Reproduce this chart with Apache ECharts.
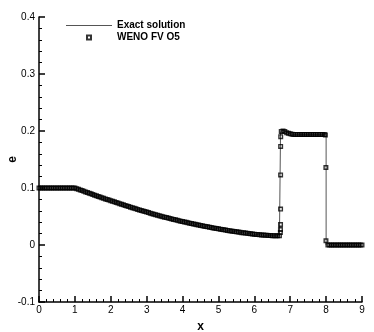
<!DOCTYPE html>
<html>
<head>
<meta charset="utf-8">
<script src="https://cdn.jsdelivr.net/npm/echarts@6/dist/echarts.min.js"></script>
<style>
html,body{margin:0;padding:0;background:#fff;}
#chart{width:374px;height:332px;}
</style>
</head>
<body>
<div id="chart"></div>
<script>
// ---- Data ----
const seriesNames = ['Exact solution', 'WENO FV O5'];
const xTicks = [0, 1, 2, 3, 4, 5, 6, 7, 8, 9];
const yTicks = [-0.1, 0, 0.1, 0.2, 0.3, 0.4];

// Exact solution
const exactX = [0, 1.0, 1.1, 1.2, 1.3, 1.4, 1.5, 1.6, 1.7, 1.8, 1.9, 2.0, 2.1, 2.2, 2.3, 2.4, 2.5, 2.6, 2.7, 2.8, 2.9,
  3.0, 3.1, 3.2, 3.3, 3.4, 3.5, 3.6, 3.7, 3.8, 3.9, 4.0, 4.1, 4.2, 4.3, 4.4, 4.5, 4.6, 4.7, 4.8, 4.9,
  5.0, 5.1, 5.2, 5.3, 5.4, 5.5, 5.6, 5.7, 5.8, 5.9, 6.0, 6.1, 6.2, 6.3, 6.4, 6.5, 6.6, 6.7, 6.73,
  6.73, 6.76, 6.8, 6.85, 6.9, 6.95, 7.0, 7.1, 7.2, 8.0, 8.0, 9.0];
const exactE = [0.1, 0.1, 0.0977, 0.0954, 0.0931, 0.0908, 0.0886, 0.0864, 0.0842, 0.0820, 0.0799, 0.0778, 0.0757, 0.0736, 0.0715, 0.0694, 0.0674, 0.0654, 0.0634, 0.0615, 0.0596,
  0.0577, 0.0559, 0.0541, 0.0523, 0.0506, 0.0489, 0.0473, 0.0457, 0.0441, 0.0426, 0.0411, 0.0397, 0.0383, 0.0369, 0.0356, 0.0343, 0.0330, 0.0318, 0.0306, 0.0294,
  0.0283, 0.0272, 0.0261, 0.0251, 0.0241, 0.0231, 0.0222, 0.0213, 0.0205, 0.0197, 0.0190, 0.0183, 0.0177, 0.0172, 0.0167, 0.0164, 0.0162, 0.0162, 0.0162,
  0.199, 0.200, 0.201, 0.200, 0.198, 0.196, 0.195, 0.194, 0.194, 0.194, 0, 0];

// WENO FV O5 numerical solution
const wenoX = [0, 0.05, 0.1, 0.15, 0.2, 0.25, 0.3, 0.35, 0.4, 0.45, 0.5, 0.55, 0.6, 0.65, 0.7, 0.75, 0.8, 0.85, 0.9, 0.95,
  1.0, 1.05, 1.1, 1.15, 1.2, 1.25, 1.3, 1.35, 1.4, 1.45, 1.5, 1.55, 1.6, 1.65, 1.7, 1.75, 1.8, 1.85, 1.9, 1.95,
  2.0, 2.05, 2.1, 2.15, 2.2, 2.25, 2.3, 2.35, 2.4, 2.45, 2.5, 2.55, 2.6, 2.65, 2.7, 2.75, 2.8, 2.85, 2.9, 2.95,
  3.0, 3.05, 3.1, 3.15, 3.2, 3.25, 3.3, 3.35, 3.4, 3.45, 3.5, 3.55, 3.6, 3.65, 3.7, 3.75, 3.8, 3.85, 3.9, 3.95,
  4.0, 4.05, 4.1, 4.15, 4.2, 4.25, 4.3, 4.35, 4.4, 4.45, 4.5, 4.55, 4.6, 4.65, 4.7, 4.75, 4.8, 4.85, 4.9, 4.95,
  5.0, 5.05, 5.1, 5.15, 5.2, 5.25, 5.3, 5.35, 5.4, 5.45, 5.5, 5.55, 5.6, 5.65, 5.7, 5.75, 5.8, 5.85, 5.9, 5.95,
  6.0, 6.05, 6.1, 6.15, 6.2, 6.25, 6.3, 6.35, 6.4, 6.45, 6.5, 6.55, 6.6, 6.65, 6.7,
  6.726, 6.728, 6.73, 6.731, 6.732, 6.733, 6.735,
  6.75, 6.8, 6.85, 6.9, 6.95, 7.0, 7.05, 7.1, 7.15, 7.2, 7.25, 7.3, 7.35, 7.4, 7.45, 7.5, 7.55, 7.6, 7.65, 7.7, 7.75, 7.8, 7.85, 7.9, 7.95, 7.98,
  7.994, 7.996,
  8.05, 8.1, 8.15, 8.2, 8.25, 8.3, 8.35, 8.4, 8.45, 8.5, 8.55, 8.6, 8.65, 8.7, 8.75, 8.8, 8.85, 8.9, 8.95, 9.0];
const wenoE = [0.1, 0.1, 0.1, 0.1, 0.1, 0.1, 0.1, 0.1, 0.1, 0.1, 0.1, 0.1, 0.1, 0.1, 0.1, 0.1, 0.1, 0.1, 0.1, 0.1,
  0.1, 0.0988, 0.0977, 0.0965, 0.0954, 0.0942, 0.0931, 0.0919, 0.0908, 0.0897, 0.0886, 0.0875, 0.0864, 0.0853, 0.0842, 0.0831, 0.0820, 0.0809, 0.0799, 0.0788,
  0.0778, 0.0767, 0.0757, 0.0746, 0.0736, 0.0725, 0.0715, 0.0704, 0.0694, 0.0684, 0.0674, 0.0664, 0.0654, 0.0644, 0.0634, 0.0624, 0.0615, 0.0605, 0.0596, 0.0586,
  0.0577, 0.0568, 0.0559, 0.0550, 0.0541, 0.0532, 0.0523, 0.0514, 0.0506, 0.0497, 0.0489, 0.0481, 0.0473, 0.0465, 0.0457, 0.0449, 0.0441, 0.0433, 0.0426, 0.0418,
  0.0411, 0.0404, 0.0397, 0.0390, 0.0383, 0.0376, 0.0369, 0.0362, 0.0356, 0.0349, 0.0343, 0.0336, 0.0330, 0.0324, 0.0318, 0.0312, 0.0306, 0.0300, 0.0294, 0.0288,
  0.0283, 0.0277, 0.0272, 0.0266, 0.0261, 0.0256, 0.0251, 0.0246, 0.0241, 0.0236, 0.0231, 0.0226, 0.0222, 0.0217, 0.0213, 0.0209, 0.0205, 0.0201, 0.0197, 0.0193,
  0.0190, 0.0186, 0.0183, 0.0180, 0.0177, 0.0174, 0.0172, 0.0169, 0.0167, 0.0165, 0.0164, 0.0163, 0.0162, 0.0162, 0.0162,
  0.022, 0.027, 0.036, 0.063, 0.123, 0.173, 0.190,
  0.199, 0.200, 0.199, 0.197, 0.196, 0.195, 0.1945, 0.194, 0.194, 0.194, 0.194, 0.194, 0.194, 0.194, 0.194, 0.194, 0.194, 0.194, 0.194, 0.194, 0.194, 0.194, 0.194, 0.194, 0.194, 0.193,
  0.136, 0.0075,
  0, 0, 0, 0, 0, 0, 0, 0, 0, 0, 0, 0, 0, 0, 0, 0, 0, 0, 0, 0];

// ---- Build chart ----
const FONT = 'Liberation Sans, Arial, Helvetica, sans-serif';
const exactData = exactX.map((x, i) => [x, exactE[i]]);
const wenoData = wenoX.map((x, i) => [x, wenoE[i]]);

const axisCommon = {
  type: 'value',
  nameLocation: 'middle',
  nameMoveOverlap: false,
  nameTextStyle: { color: '#000', fontSize: 12, fontWeight: 'bold', fontFamily: FONT },
  axisLine: { show: true, onZero: false, lineStyle: { color: '#000', width: 1.5 } },
  axisTick: { show: true, inside: true, length: 6, lineStyle: { color: '#000', width: 1.5 } },
  minorTick: { show: true, splitNumber: 5, length: 3, lineStyle: { color: '#000', width: 1 } },
  splitLine: { show: false },
  minorSplitLine: { show: false },
  axisLabel: { color: '#000', fontSize: 10, fontFamily: FONT }
};

const legendText = { color: '#000', fontSize: 10, fontWeight: 'bold', fontFamily: FONT };

const chart = echarts.init(document.getElementById('chart'), null, { renderer: 'canvas' });
chart.setOption({
  animation: false,
  backgroundColor: '#fff',
  grid: { left: 39, right: 12, top: 17, bottom: 30, containLabel: false, outerBoundsMode: 'none' },
  legend: {
    // icons are 46x4 boxes; invisible move-to anchors fix each icon's extent
    data: [
      { name: seriesNames[0], icon: 'path://M0,0M46,4M0,1.5H46V2.5H0Z' },
      { name: seriesNames[1], icon: 'path://M0,0M46,4M21,0H25V4H21Z' }
    ],
    left: 65, top: 19.5, padding: 0, orient: 'vertical', align: 'left',
    itemWidth: 46, itemHeight: 4, itemGap: 0,
    symbolKeepAspect: false,
    textStyle: Object.assign({}, legendText, { lineHeight: 12 }),
    selectedMode: false
  },
  xAxis: Object.assign({}, axisCommon, {
    min: xTicks[0], max: xTicks[xTicks.length - 1], interval: 1,
    name: 'x', nameGap: 19,
    axisLabel: Object.assign({}, axisCommon.axisLabel, { margin: 3 })
  }),
  yAxis: Object.assign({}, axisCommon, {
    min: yTicks[0], max: yTicks[yTicks.length - 1], interval: 0.1,
    name: 'e', nameGap: 20,
    axisLabel: Object.assign({}, axisCommon.axisLabel, { margin: 4 })
  }),
  series: [
    {
      name: seriesNames[0],
      type: 'line',
      data: exactData,
      symbol: 'none',
      lineStyle: { color: '#555', width: 1 },
      itemStyle: { color: '#555' },
      z: 2
    },
    {
      name: seriesNames[1],
      type: 'scatter',
      data: wenoData,
      symbol: 'rect',
      symbolSize: 3.6,
      itemStyle: { color: 'rgba(255,255,255,0)', borderColor: '#000', borderWidth: 1.4 },
      z: 3
    }
  ]
});
</script>
</body>
</html>
